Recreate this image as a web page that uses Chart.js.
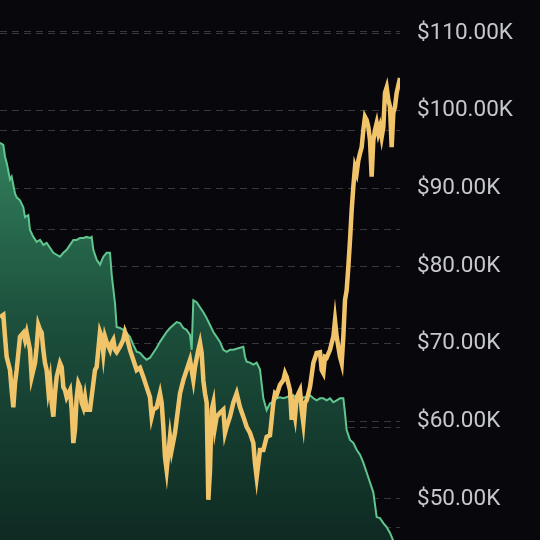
<!DOCTYPE html>
<html>
<head>
<meta charset="utf-8">
<script src="https://cdn.jsdelivr.net/npm/chart.js@4.4.1/dist/chart.umd.min.js"></script>
<style>
  html, body { margin: 0; padding: 0; background: #07070c; }
  #wrap { width: 540px; height: 540px; }
</style>
</head>
<body>
<div id="wrap"><canvas id="chart" width="540" height="540"></canvas></div>
<script>
// price series (thousands of USD), day index on a 0..240 grid
const goldDays = [0,2,3,4,6,7,8,9,10,12,14,15,16,18,19,20,21,22,23,24,25,26,27,28,29,30,31,32,33,34,36,37,38,39,40,42,43,44,45,46,47,48,49,50,51,52,54,56,57,58,60,61,62,63,64,66,67,68,69,70,72,74,75,76,78,80,82,84,86,88,90,91,92,94,96,97,98,99,100,102,103,105,106,108,110,112,114,116,117,119,120,121,122,123,124,125,126,127,128,129,130,132,134,135,136,138,140,142,144,146,148,150,152,153,154,156,158,160,162,164,165,166,168,170,171,172,174,175,176,177,178,180,181,182,183,184,186,188,190,192,193,194,195,196,198,200,201,202,204,205,206,207,208,209,210,211,212,213,214,215,216,217,218,219,220,221,222,223,224,225,226,227,228,229,230,231,232,233,234,235,236,237,238,240];
const goldPrice = [73.4,73.7,70.9,68.3,66.6,64.0,61.8,64.9,66.6,70.9,71.4,70.5,71.4,69.2,65.7,66.6,67.5,69.6,72.4,71.8,71.4,69.2,67.5,66.6,64.0,65.3,62.4,60.6,63.6,65.7,67.5,67.0,64.4,64.0,63.1,64.0,61.5,57.2,58.9,63.1,64.9,64.4,62.4,61.8,63.1,61.5,61.5,64.9,66.6,67.0,71.5,70.9,68.8,70.9,70.2,69.2,70.1,70.5,69.2,68.9,69.6,70.5,71.5,70.9,69.2,67.9,66.6,66.9,65.7,64.4,63.1,60.6,61.5,61.8,63.6,62.4,59.3,55.4,53.7,58.0,56.3,58.5,60.2,63.6,65.3,66.6,67.9,65.3,67.0,69.2,70.1,68.8,65.3,63.6,62.4,49.9,53.7,61.5,62.4,59.3,60.6,61.1,61.5,58.5,59.3,60.6,62.4,63.6,61.8,60.6,59.3,58.5,57.2,54.6,52.8,56.3,56.3,58.0,58.2,62.4,63.6,63.4,64.7,65.3,66.2,65.7,64.0,60.2,61.8,60.6,63.1,64.0,61.5,59.8,62.4,62.7,64.4,67.5,68.8,68.9,66.6,66.2,68.3,68.2,69.2,70.9,73.0,70.9,68.3,67.5,70.9,75.6,76.9,79.9,83.3,87.2,90.2,92.7,92.0,93.6,94.5,95.3,97.5,99.2,98.8,97.9,96.2,91.5,96.2,97.5,98.4,97.1,97.9,96.6,97.9,102.3,103.0,101.4,100.5,95.3,99.7,100.5,102.3,104.2];

// comparison series (unlabelled index, own axis)
const greenDays = [0,2,3,4,6,7,9,10,12,14,15,17,18,20,22,24,26,28,30,32,34,36,38,40,42,44,46,48,50,52,54,55,56,58,60,62,64,66,67,69,70,72,74,76,78,80,82,84,86,88,90,92,94,96,98,100,102,104,106,108,110,112,114,115,116,118,120,122,124,126,128,130,132,134,136,138,140,142,144,146,147,148,150,152,154,156,158,160,162,164,166,168,170,172,174,176,178,180,182,184,186,188,190,192,194,196,198,200,202,204,206,207,208,210,212,214,216,218,220,222,224,226,228,230,232,234,236,238,240];
const greenValue = [48.8,48.6,47.4,46.8,45.1,45.4,43.7,43.3,43.0,42.3,41.3,41.5,40.0,39.3,38.8,39.0,38.5,38.7,38.2,37.7,37.5,37.3,37.7,38.0,38.5,39.0,39.0,39.2,39.2,39.3,39.2,39.3,38.0,37.0,36.5,37.3,37.7,37.7,35.5,32.6,30.2,30.1,29.9,29.6,29.2,28.4,27.7,27.6,27.2,26.9,27.1,27.6,28.1,28.7,29.2,29.7,30.1,30.4,30.7,30.6,30.1,29.9,29.4,27.9,32.9,32.7,32.2,31.7,31.1,30.4,29.7,29.2,28.7,27.9,27.7,27.9,27.9,28.0,28.1,28.2,27.2,26.7,26.6,26.4,26.6,25.9,23.0,21.8,22.5,22.6,23.0,23.1,23.0,23.1,23.3,23.3,23.0,22.6,23.1,23.1,23.3,23.0,22.8,23.0,23.0,22.8,23.0,22.6,22.8,23.0,23.0,21.5,19.8,18.8,18.5,17.8,17.3,16.5,15.5,14.5,13.5,11.0,10.9,10.4,10.0,9.4,8.6,7.7,6.9];

const priceTicks = [50, 60, 70, 80, 90, 100, 110];
const greenTicks = [10, 20, 30, 40, 50, 60];

const goldPoints = goldDays.map((d, i) => ({ x: d, y: goldPrice[i] }));
const greenPoints = greenDays.map((d, i) => ({ x: d, y: greenValue[i] }));

const gridStyle = {
    grid: { color: 'rgba(255,255,255,0.2)', lineWidth: 1, drawTicks: false },
    border: { display: false, dash: [7, 5] },
};

new Chart(document.getElementById('chart'), {
    type: 'line',
    data: {
        datasets: [
            {
                data: goldPoints,
                yAxisID: 'y',
                borderColor: '#f2c46a',
                borderWidth: 4.5,
                pointRadius: 0,
                tension: 0,
                fill: false,
                order: 0,
            },
            {
                data: greenPoints,
                yAxisID: 'y2',
                borderColor: '#62c58f',
                borderWidth: 2,
                pointRadius: 0,
                tension: 0,
                fill: 'start',
                backgroundColor: (ctx) => {
                    const area = ctx.chart.chartArea;
                    if (!area) return 'rgba(40,110,80,0.8)';
                    const g = ctx.chart.ctx.createLinearGradient(0, area.top, 0, area.bottom);
                    g.addColorStop(0, '#3d9169');
                    g.addColorStop(0.3, '#2f7a58');
                    g.addColorStop(0.6, '#1c4f3c');
                    g.addColorStop(1, '#0e2a22');
                    return g;
                },
                order: 1,
            },
        ],
    },
    options: {
        responsive: false,
        animation: false,
        devicePixelRatio: 1,
        layout: { padding: 0 },
        plugins: {
            legend: { display: false },
            tooltip: { enabled: false },
        },
        scales: {
            x: {
                type: 'linear',
                min: 0,
                max: 240,
                display: false,
            },
            y: {
                position: 'right',
                min: 44.72,
                max: 114.25,
                ...gridStyle,
                afterBuildTicks: (s) => { s.ticks = priceTicks.map(v => ({ value: v })); },
                afterFit: (s) => { s.width = 140; s.paddingTop = 0; s.paddingBottom = 0; },
                ticks: {
                    color: '#c6c8cc',
                    font: { family: 'Roboto', size: 22.5 },
                    padding: 17,
                    callback: (v) => '$' + v.toFixed(2) + 'K',
                },
            },
            y2: {
                position: 'left',
                min: 8.687,
                max: 63.23,
                ...gridStyle,
                afterBuildTicks: (s) => { s.ticks = greenTicks.map(v => ({ value: v })); },
                afterFit: (s) => { s.width = 0; s.paddingTop = 0; s.paddingBottom = 0; },
                ticks: { display: false },
            },
        },
    },
});
</script>
</body>
</html>
